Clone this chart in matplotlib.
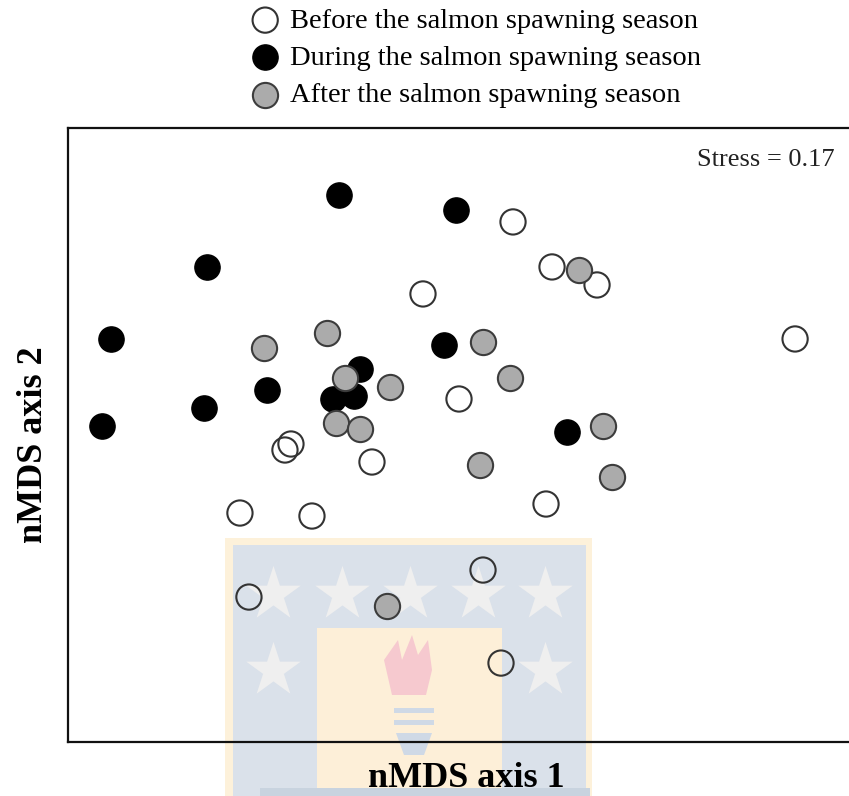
import numpy as np
import matplotlib
matplotlib.use("Agg")
import matplotlib.pyplot as plt
from matplotlib.patches import Rectangle, Polygon

plt.rcParams['font.family'] = ['Liberation Serif', 'DejaVu Serif']

# nMDS site scores (arbitrary nMDS units)
before_x = [0.21, 0.34, 0.49, -0.09, 1.15, 0.03, -0.55, -0.53, -0.26, -0.70, -0.46, 0.32, -0.67, 0.11, 0.17]
before_y = [0.71, 0.56, 0.50, 0.47, 0.32, 0.12, -0.05, -0.03, -0.09, -0.26, -0.27, -0.23, -0.54, -0.45, -0.76]

during_x = [-0.37, 0.02, -0.81, -1.13, -1.16, -0.82, -0.61, -0.02, -0.30, -0.39, -0.32, 0.39]
during_y = [0.80, 0.75, 0.56, 0.32, 0.03, 0.09, 0.15, 0.30, 0.22, 0.12, 0.13, 0.01]

after_x = [-0.62, -0.41, -0.35, -0.20, 0.11, 0.20, -0.38, -0.30, 0.10, 0.51, 0.54, 0.43, -0.21]
after_y = [0.29, 0.34, 0.19, 0.16, 0.31, 0.19, 0.04, 0.02, -0.10, 0.03, -0.14, 0.55, -0.57]

labels = ["Before the salmon spawning season",
          "During the salmon spawning season",
          "After the salmon spawning season"]
stress = 0.17

W, H = 849, 796
fig = plt.figure(figsize=(W / 100, H / 100), dpi=100)

# background watermark (drawn in pixel space, behind the plot)
wm = fig.add_axes([0, 0, 1, 1], zorder=0)
wm.set_xlim(0, W)
wm.set_ylim(H, 0)
wm.axis('off')
wm.add_patch(Rectangle((225, 538), 367, 270, color='#fdf1da', lw=0))
wm.add_patch(Rectangle((233, 545), 353, 270, color='#dae1ea', lw=0))
wm.scatter([273, 342, 410, 478, 545, 273, 545], [594, 594, 594, 594, 594, 670, 670],
           marker='*', s=1700, color='#efefef', lw=0)
wm.add_patch(Rectangle((317, 628), 185, 200, color='#fdefd8', lw=0))
wm.add_patch(Polygon([[392, 695], [384, 660], [398, 640], [402, 660], [412, 635],
                      [418, 655], [428, 640], [432, 670], [426, 695]],
                     closed=True, color='#f6c9cf', lw=0))
wm.add_patch(Rectangle((394, 708), 40, 5, color='#cfd9e6', lw=0))
wm.add_patch(Rectangle((394, 720), 40, 5, color='#cfd9e6', lw=0))
wm.add_patch(Polygon([[396, 733], [432, 733], [424, 755], [404, 755]],
                     closed=True, color='#cfd9e6', lw=0))
wm.add_patch(Rectangle((260, 788), 330, 10, color='#c8d3df', lw=0))

# main nMDS axes (right edge runs past the figure edge)
left, top, bottom, right = 68, 128, 742, 862
ax = fig.add_axes([left / W, 1 - bottom / H, (right - left) / W, (bottom - top) / H], zorder=1)
ax.patch.set_alpha(0)
ax.set_xlim(-1.273, 1.373)
ax.set_ylim(-1.023, 1.023)
ax.set_xticks([])
ax.set_yticks([])
for sp in ax.spines.values():
    sp.set_linewidth(1.6)
    sp.set_color('#111111')

ms = 330
h1 = ax.scatter(before_x, before_y, s=ms, facecolor='none', edgecolor='#333333', lw=1.5, zorder=3)
h2 = ax.scatter(during_x, during_y, s=ms, facecolor='black', edgecolor='black', lw=1.0, zorder=3)
h3 = ax.scatter(after_x, after_y, s=ms, facecolor='#ababab', edgecolor='#3c3c3c', lw=1.5, zorder=4)

ax.text((835 - left) / (right - left), 0.965, "Stress = %.2f" % stress, transform=ax.transAxes,
        ha='right', va='top', fontsize=19, color='#222222')

ax.set_xlabel("nMDS axis 1", fontsize=26, fontweight='bold')
ax.xaxis.set_label_coords((466 - left) / (right - left), -0.032)
ax.xaxis.label.set_va('top')
ax.set_ylabel("nMDS axis 2", fontsize=26, fontweight='bold')
ax.yaxis.set_label_coords((34 - left) / (right - left), (bottom - 445) / (bottom - top))
ax.yaxis.label.set_va('center')

fig.legend([h1, h2, h3], labels, loc='upper left', bbox_to_anchor=(236 / W, 1 + 8 / H),
           frameon=False, fontsize=20.5, handlelength=0.95, handletextpad=0.4,
           labelspacing=0.4, borderpad=0.05, markerscale=1.0)

fig.savefig("out.png", dpi=100)
